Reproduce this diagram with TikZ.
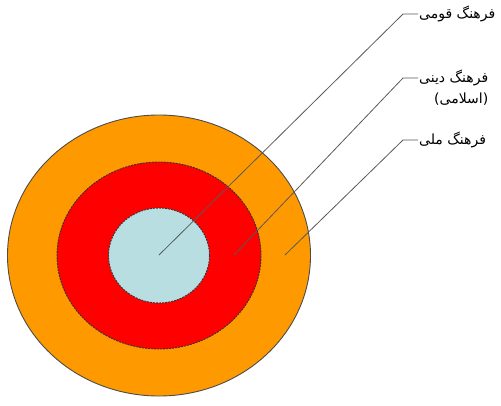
\documentclass[tikz,border=0pt]{standalone}
\usepackage{fontspec}
\usepackage{tikz}
\usetikzlibrary{shapes.geometric,positioning}
\TeXXeTstate=1
\newfontfamily\farsifont[Script=Arabic]{DejaVu Sans}
\definecolor{melliorange}{RGB}{255,153,0}
\definecolor{dinired}{RGB}{255,0,0}
\definecolor{qowmiblue}{RGB}{184,222,226}

\begin{document}
\begin{tikzpicture}[x=1pt, y=-1pt,
    every node/.style={font=\farsifont\fontsize{14}{16}\selectfont},
    ring/.style={ellipse, inner sep=0pt, line width=0.9pt},
    dashring/.style={ring, draw=black!80, dash pattern=on 2pt off 1pt},
    pin/.style={draw=black!65, line width=0.8pt},
    lab/.style={inner sep=1pt}
]
\useasboundingbox (0,0) rectangle (501,405);

% Rings
\node[ring, draw=black!70, fill=melliorange, minimum width=303, minimum height=281] (melli) at (159,255.5) {};
\node[dashring, fill=dinired, minimum width=204, minimum height=187] (dini) at (159,255.5) {};
\node[dashring, fill=qowmiblue, minimum width=101, minimum height=95] (qowmi) at (159,255.5) {};

% Pin ends and bends
\coordinate (pqowmi) at (159,255);
\coordinate (pdini)  at (234,255);
\coordinate (pmelli) at (285,255);
\coordinate (bqowmi) at (403,14);
\coordinate (bdini)  at (403,78);
\coordinate (bmelli) at (403,140);

% Labels
\node[lab, right=15 of bqowmi] (lqowmi) {\beginR فرهنگ قومی\endR};
\node[lab, right=15 of bdini] (ldini) {\beginR فرهنگ دینی\endR};
\node[lab, anchor=east] (leslami) at ([yshift=-21pt]ldini.east) {\beginR(اسلامی)\endR};
\node[lab, right=15 of bmelli] (lmelli) {\beginR فرهنگ ملی\endR};

% Pins
\draw[pin] (pqowmi) -- (bqowmi) -- (lqowmi.west);
\draw[pin] (pdini) -- (bdini) -- (ldini.west);
\draw[pin] (pmelli) -- (bmelli) -- (lmelli.west);

\end{tikzpicture}
\end{document}
